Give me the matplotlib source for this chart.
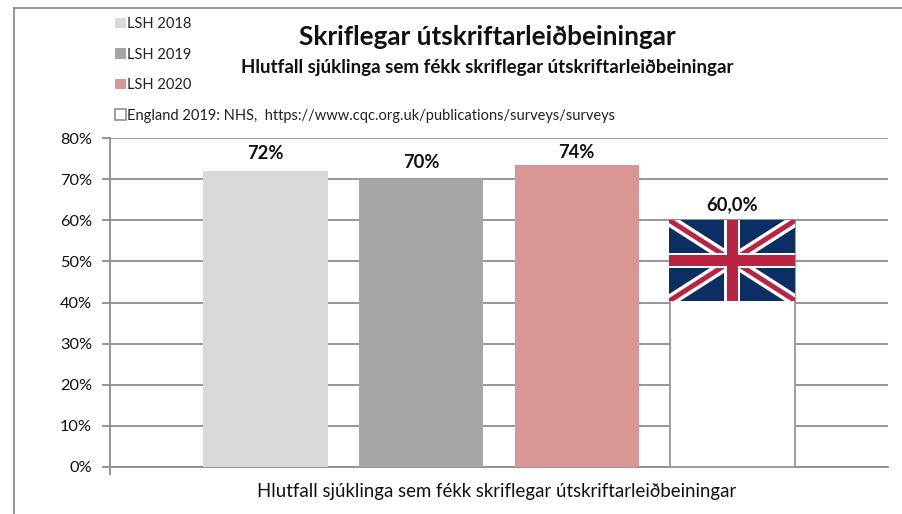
import matplotlib
matplotlib.use("Agg")
import matplotlib.pyplot as plt
from matplotlib.lines import Line2D
from matplotlib.patches import Polygon, Rectangle

plt.rcParams["font.family"] = ["Lato", "DejaVu Sans"]

# Data
series_names = ["LSH 2018", "LSH 2019", "LSH 2020",
                "England 2019: NHS,  https://www.cqc.org.uk/publications/surveys/surveys"]
positions = [1, 2, 3, 4]
values = [72, 70, 73.5, 60]
value_labels = ["72%", "70%", "74%", "60,0%"]
label_gaps = [2.2, 1.95, 1.0, 1.7]
colors = ["#d9d9d9", "#a6a6a6", "#d99694", "white"]
yticks = [0, 10, 20, 30, 40, 50, 60, 70, 80]
category = "Hlutfall sjúklinga sem fékk skriflegar útskriftarleiðbeiningar"
flag_bottom = 40.4

W, H = 903, 514
GREY = "#8e8e8e"


def band(x0, y0, x1, y1, half):
    # slanted strip with a fixed vertical thickness
    return [(x0, y0 - half), (x1, y1 - half), (x1, y1 + half), (x0, y0 + half)]


def draw_flag(ax):
    # Union flag in its own 60 x 30 coordinates
    blue, red = "#0b2f63", "#b92443"
    ax.set_xlim(0, 60)
    ax.set_ylim(0, 30)
    ax.axis("off")
    ax.add_patch(Rectangle((0, 0), 60, 30, color=blue, lw=0))
    ax.add_patch(Polygon(band(-2, -1, 62, 31, 2.6), color="white", lw=0, zorder=2))
    ax.add_patch(Polygon(band(-2, 31, 62, -1, 2.6), color="white", lw=0, zorder=2))
    ax.add_patch(Polygon(band(-2, -1, 62, 31, 1.1), color=red, lw=0, zorder=3))
    ax.add_patch(Polygon(band(-2, 31, 62, -1, 1.1), color=red, lw=0, zorder=3))
    ax.add_patch(Rectangle((26.2, 0), 7.6, 30, color="white", lw=0, zorder=4))
    ax.add_patch(Rectangle((0, 12.3), 60, 5.4, color="white", lw=0, zorder=4))
    ax.add_patch(Rectangle((27.4, 0), 5.2, 30, color=red, lw=0, zorder=5))
    ax.add_patch(Rectangle((0, 13.1), 60, 3.8, color=red, lw=0, zorder=5))


def main():
    fig = plt.figure(figsize=(W / 100, H / 100), dpi=100)
    ax = fig.add_axes([110 / W, 1 - 467 / H, 778 / W, 329 / H])

    handles = []
    for pos, val, col in zip(positions, values, colors):
        if col == "white":
            b = ax.bar(pos, val, width=0.8, color=col, edgecolor=GREY, linewidth=1.2, zorder=3)
        else:
            b = ax.bar(pos, val, width=0.8, color=col, linewidth=0, zorder=3)
        handles.append(b[0])
    for pos, val, lab, gap in zip(positions, values, value_labels, label_gaps):
        ax.text(pos, val + gap, lab, ha="center", va="bottom", fontsize=13.2, fontweight="bold", color="#111111")

    ax.set_xlim(0, 5)
    ax.set_ylim(0, 80)
    ax.set_yticks(yticks)
    ax.set_yticklabels([f"{t}%" for t in yticks], fontsize=11.8, color="#111111")
    ax.set_xticks([0])
    ax.set_xticklabels([""])
    ax.tick_params(axis="both", length=6, width=1.3, color=GREY, pad=7)
    ax.yaxis.grid(True, color=GREY, lw=1.3, zorder=0)
    ax.set_axisbelow(True)
    for s in ["top", "right"]:
        ax.spines[s].set_visible(False)
    for s in ["left", "bottom"]:
        ax.spines[s].set_color(GREY)
        ax.spines[s].set_linewidth(1.3)

    # flag over the top of the England bar
    flag = ax.inset_axes([positions[3] - 0.405, flag_bottom, 0.81, values[3] - flag_bottom],
                         transform=ax.transData, zorder=4)
    draw_flag(flag)

    fig.text(487 / W, 1 - 37 / H, "Skriflegar útskriftarleiðbeiningar", ha="center", va="center",
             fontsize=18.8, fontweight="bold", color="#111111")
    fig.text(487 / W, 1 - 67 / H, category, ha="center", va="center",
             fontsize=13.5, fontweight="bold", color="#111111")
    fig.text(497 / W, 1 - 492 / H, category, ha="center", va="center", fontsize=13.4, color="#111111")

    fig.legend(handles, series_names, loc="upper left", bbox_to_anchor=(102 / W, 1 - 4 / H),
               frameon=False, fontsize=10.5, labelspacing=1.13, handlelength=0.72, handleheight=0.72,
               handletextpad=0.12, labelcolor="#222222")

    # chart frame, only top and left show
    fig.add_artist(Line2D([14 / W, 1], [1 - 8 / H, 1 - 8 / H], color=GREY, lw=1.3))
    fig.add_artist(Line2D([14 / W, 14 / W], [0, 1 - 8 / H], color=GREY, lw=1.3))

    fig.savefig("out.png", dpi=100)


if __name__ == "__main__":
    main()
